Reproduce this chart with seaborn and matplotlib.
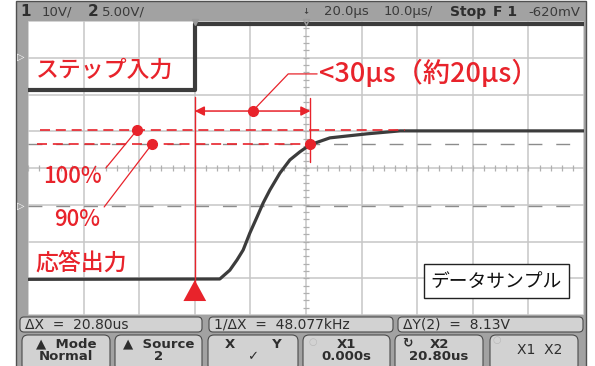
import numpy as np
import matplotlib
matplotlib.use("Agg")
import matplotlib.pyplot as plt
from matplotlib.patches import Rectangle, FancyBboxPatch
import seaborn as sns

# scope traces: time in us (screen centre = 20us, 10us/div), level in divisions (0..8)
step_t = [-30, 0, 0, 70]
step_v = [6.12, 6.12, 7.92, 7.92]

resp_t = [-30, 4.5, 5.4, 6.3, 7.6, 8.7, 9.9, 11.2, 12.3, 13.5, 15.3, 17.1, 18.9, 20.7, 24.3, 31.0, 36.9, 70]
resp_v = [0.97, 0.98, 1.10, 1.22, 1.50, 1.77, 2.23, 2.67, 3.05, 3.40, 3.86, 4.22, 4.44, 4.63, 4.82, 4.93, 5.01, 5.01]

# cursors
x1_cursor = 0.0
x2_cursor = 20.8
y1_cursor = 2.97
y2_cursor = 4.65
level_100 = 5.03
level_90 = 4.65

status_texts = ["ΔX  =  20.80us", "1/ΔX  =  48.077kHz", "ΔY(2)  =  8.13V"]
softkeys = [("▲  Mode", "Normal"), ("▲  Source", "2"), ("X        Y", "✓"),
            ("X1", "0.000s"), ("X2", "20.80us"), ("X1  X2", "")]

sns.set_theme(style="white")
plt.rcParams["font.family"] = ["Noto Sans CJK JP", "DejaVu Sans"]

red = "#e8232b"
trace = "#3c3c3c"
frame_gray = "#a2a2a2"
box_gray = "#d2d2d2"
txt = "#2e2e2e"

fig = plt.figure(figsize=(5.95, 3.66), dpi=100)
fig.patch.set_facecolor("white")

# background in pixel coordinates
bg = fig.add_axes([0, 0, 1, 1])
bg.set_xlim(0, 595)
bg.set_ylim(366, 0)
bg.axis("off")
bg.add_patch(Rectangle((16, 1), 570, 366, facecolor=frame_gray, edgecolor="#505050", lw=1))

# top bar text
dv = "DejaVu Sans"
bg.text(20, 12, "1", fontsize=11, fontweight="bold", color=txt, va="center", family=dv)
bg.text(42, 12, "10V/", fontsize=9.5, color="#3a3a3a", va="center", family=dv)
bg.text(88, 12, "2", fontsize=11, fontweight="bold", color=txt, va="center", family=dv)
bg.text(102, 12, "5.00V/", fontsize=9.5, color="#3a3a3a", va="center", family=dv)
bg.text(303, 13, "ꜜ", fontsize=10, color=txt, va="center", family=dv)
bg.text(324, 12, "20.0µs", fontsize=9.5, color="#3a3a3a", va="center", family=dv)
bg.text(384, 12, "10.0µs/", fontsize=9.5, color="#3a3a3a", va="center", family=dv)
bg.text(450, 12, "Stop", fontsize=10, fontweight="bold", color=txt, va="center", family=dv)
bg.text(493, 12, "F 1", fontsize=10, fontweight="bold", color=txt, va="center", family=dv)
bg.text(528, 12, "-620mV", fontsize=9.5, color="#3a3a3a", va="center", family=dv)

# ground markers on left strip
bg.text(17, 57, "▷", fontsize=7, color="white", va="center", family=dv)
bg.text(17, 206, "▷", fontsize=7, color="white", va="center", family=dv)

# status row
status_x = [(20, 202), (209, 393), (398, 583)]
for (a, b), s in zip(status_x, status_texts):
    bg.add_patch(FancyBboxPatch((a, 317), b - a, 15, boxstyle="round,pad=0,rounding_size=4",
                                facecolor=box_gray, edgecolor="#4a4a4a", lw=0.8))
    bg.text(a + 5, 325, s, fontsize=10, color=txt, va="center", family=dv)

# softkeys
key_x = [(22, 110), (115, 202), (208, 298), (303, 390), (395, 483), (490, 578)]
for (a, b), (l1, l2) in zip(key_x, softkeys):
    bg.add_patch(FancyBboxPatch((a, 335), b - a, 36, boxstyle="round,pad=0,rounding_size=6",
                                facecolor=box_gray, edgecolor="#4a4a4a", lw=0.8))
    c = (a + b) / 2
    if l2:
        bg.text(c, 344, l1, fontsize=9.5, fontweight="bold", color=txt, ha="center", va="center", family=dv)
        bg.text(c, 357, l2, fontsize=9.5, fontweight="bold", color=txt, ha="center", va="center", family=dv)
    else:
        bg.text(c + 6, 350, l1, fontsize=10, color=txt, ha="center", va="center", family=dv)
bg.text(313, 342, "○", fontsize=7, color="#b8b8b8", ha="center", va="center", family=dv)
bg.text(407, 343, "↻", fontsize=9, fontweight="bold", color=txt, ha="center", va="center", family=dv)
bg.text(497, 340, "○", fontsize=7, color="#b8b8b8", ha="center", va="center", family=dv)

# scope screen
ax = fig.add_axes([28 / 595, (366 - 315) / 366, (584 - 28) / 595, (315 - 21) / 366])
ax.set_facecolor("white")
ax.set_xlim(-30, 70)
ax.set_ylim(0, 8)
ax.set_xticks(np.arange(-30, 71, 10))
ax.set_yticks(np.arange(0, 9, 1))
ax.grid(True, color="#c6c6c6", lw=1.1)
ax.tick_params(left=False, bottom=False, labelleft=False, labelbottom=False)
for sp in ax.spines.values():
    sp.set_visible(False)

# centre ticks
ax.vlines(np.arange(-30, 71, 2), 3.92, 4.08, color="#b0b0b0", lw=0.9)
ax.hlines(np.arange(0, 8.01, 0.2), 19.45, 20.55, color="#b0b0b0", lw=0.9)

# Y cursors
for yc in (y1_cursor, y2_cursor):
    ax.axhline(yc, color="#8c8c8c", lw=1, ls=(0, (10, 10)))

# traces
sns.lineplot(x=step_t, y=step_v, sort=False, estimator=None, color=trace, lw=3, ax=ax)
sns.lineplot(x=resp_t, y=resp_v, sort=False, estimator=None, color=trace, lw=2.3, ax=ax)
ax.plot([x1_cursor], [7.96], marker="v", ms=5, color="#9a9a9a", clip_on=False)
ax.plot([20], [7.96], marker="v", ms=5, color="#9a9a9a", mfc="none", clip_on=False)

# red annotations
ax.plot([-27.8, 37.8], [level_100, level_100], color=red, lw=1.2, ls=(0, (6, 3.5)))
ax.plot([-28.4, 20.9], [level_90, level_90], color=red, lw=1.2, ls=(0, (6, 3.5)))
ax.plot([x1_cursor, x1_cursor], [0.6, 5.93], color=red, lw=1)
ax.plot([x2_cursor, x2_cursor], [4.16, 5.9], color=red, lw=1)
ax.fill([x1_cursor - 2.05, x1_cursor + 2.05, x1_cursor], [0.38, 0.38, 0.95], color=red, lw=0)
ax.annotate("", xy=(x1_cursor, 5.55), xytext=(x2_cursor, 5.55),
            arrowprops=dict(arrowstyle="<|-|>", color=red, lw=1.1, mutation_scale=14, shrinkA=0, shrinkB=0))
ax.plot([10.4, 16.8, 22.0], [5.55, 6.56, 6.56], color=red, lw=0.9)
ax.plot([-10.4, -16.0], [level_100, 4.0], color=red, lw=0.9)
ax.plot([-7.7, -16.3], [level_90, 2.94], color=red, lw=0.9)
ax.plot([10.4, -10.4, -7.7, x2_cursor], [5.55, level_100, level_90, level_90],
        ls="none", marker="o", ms=7, color=red)

ax.text(22.4, 6.56, "<30μs（約20μs）", fontsize=19.5, fontweight="medium", color=red, va="center")
ax.text(-28.5, 6.67, "ステップ入力", fontsize=16.5, fontweight="medium", color=red, va="center")
ax.text(-28.7, 1.41, "応答出力", fontsize=16.5, fontweight="medium", color=red, va="center")
ax.text(-27.3, 3.76, "100%", fontsize=16, fontweight="medium", color=red, va="center")
ax.text(-25.3, 2.61, "90%", fontsize=16, fontweight="medium", color=red, va="center")

ax.add_patch(Rectangle((41.2, 0.46), 26.1, 0.93, facecolor="white", edgecolor="#222222", lw=1, zorder=5))
ax.text(54.25, 0.92, "データサンプル", fontsize=13.5, color="#111111", ha="center", va="center", zorder=6)

fig.savefig("out.png", dpi=100)
